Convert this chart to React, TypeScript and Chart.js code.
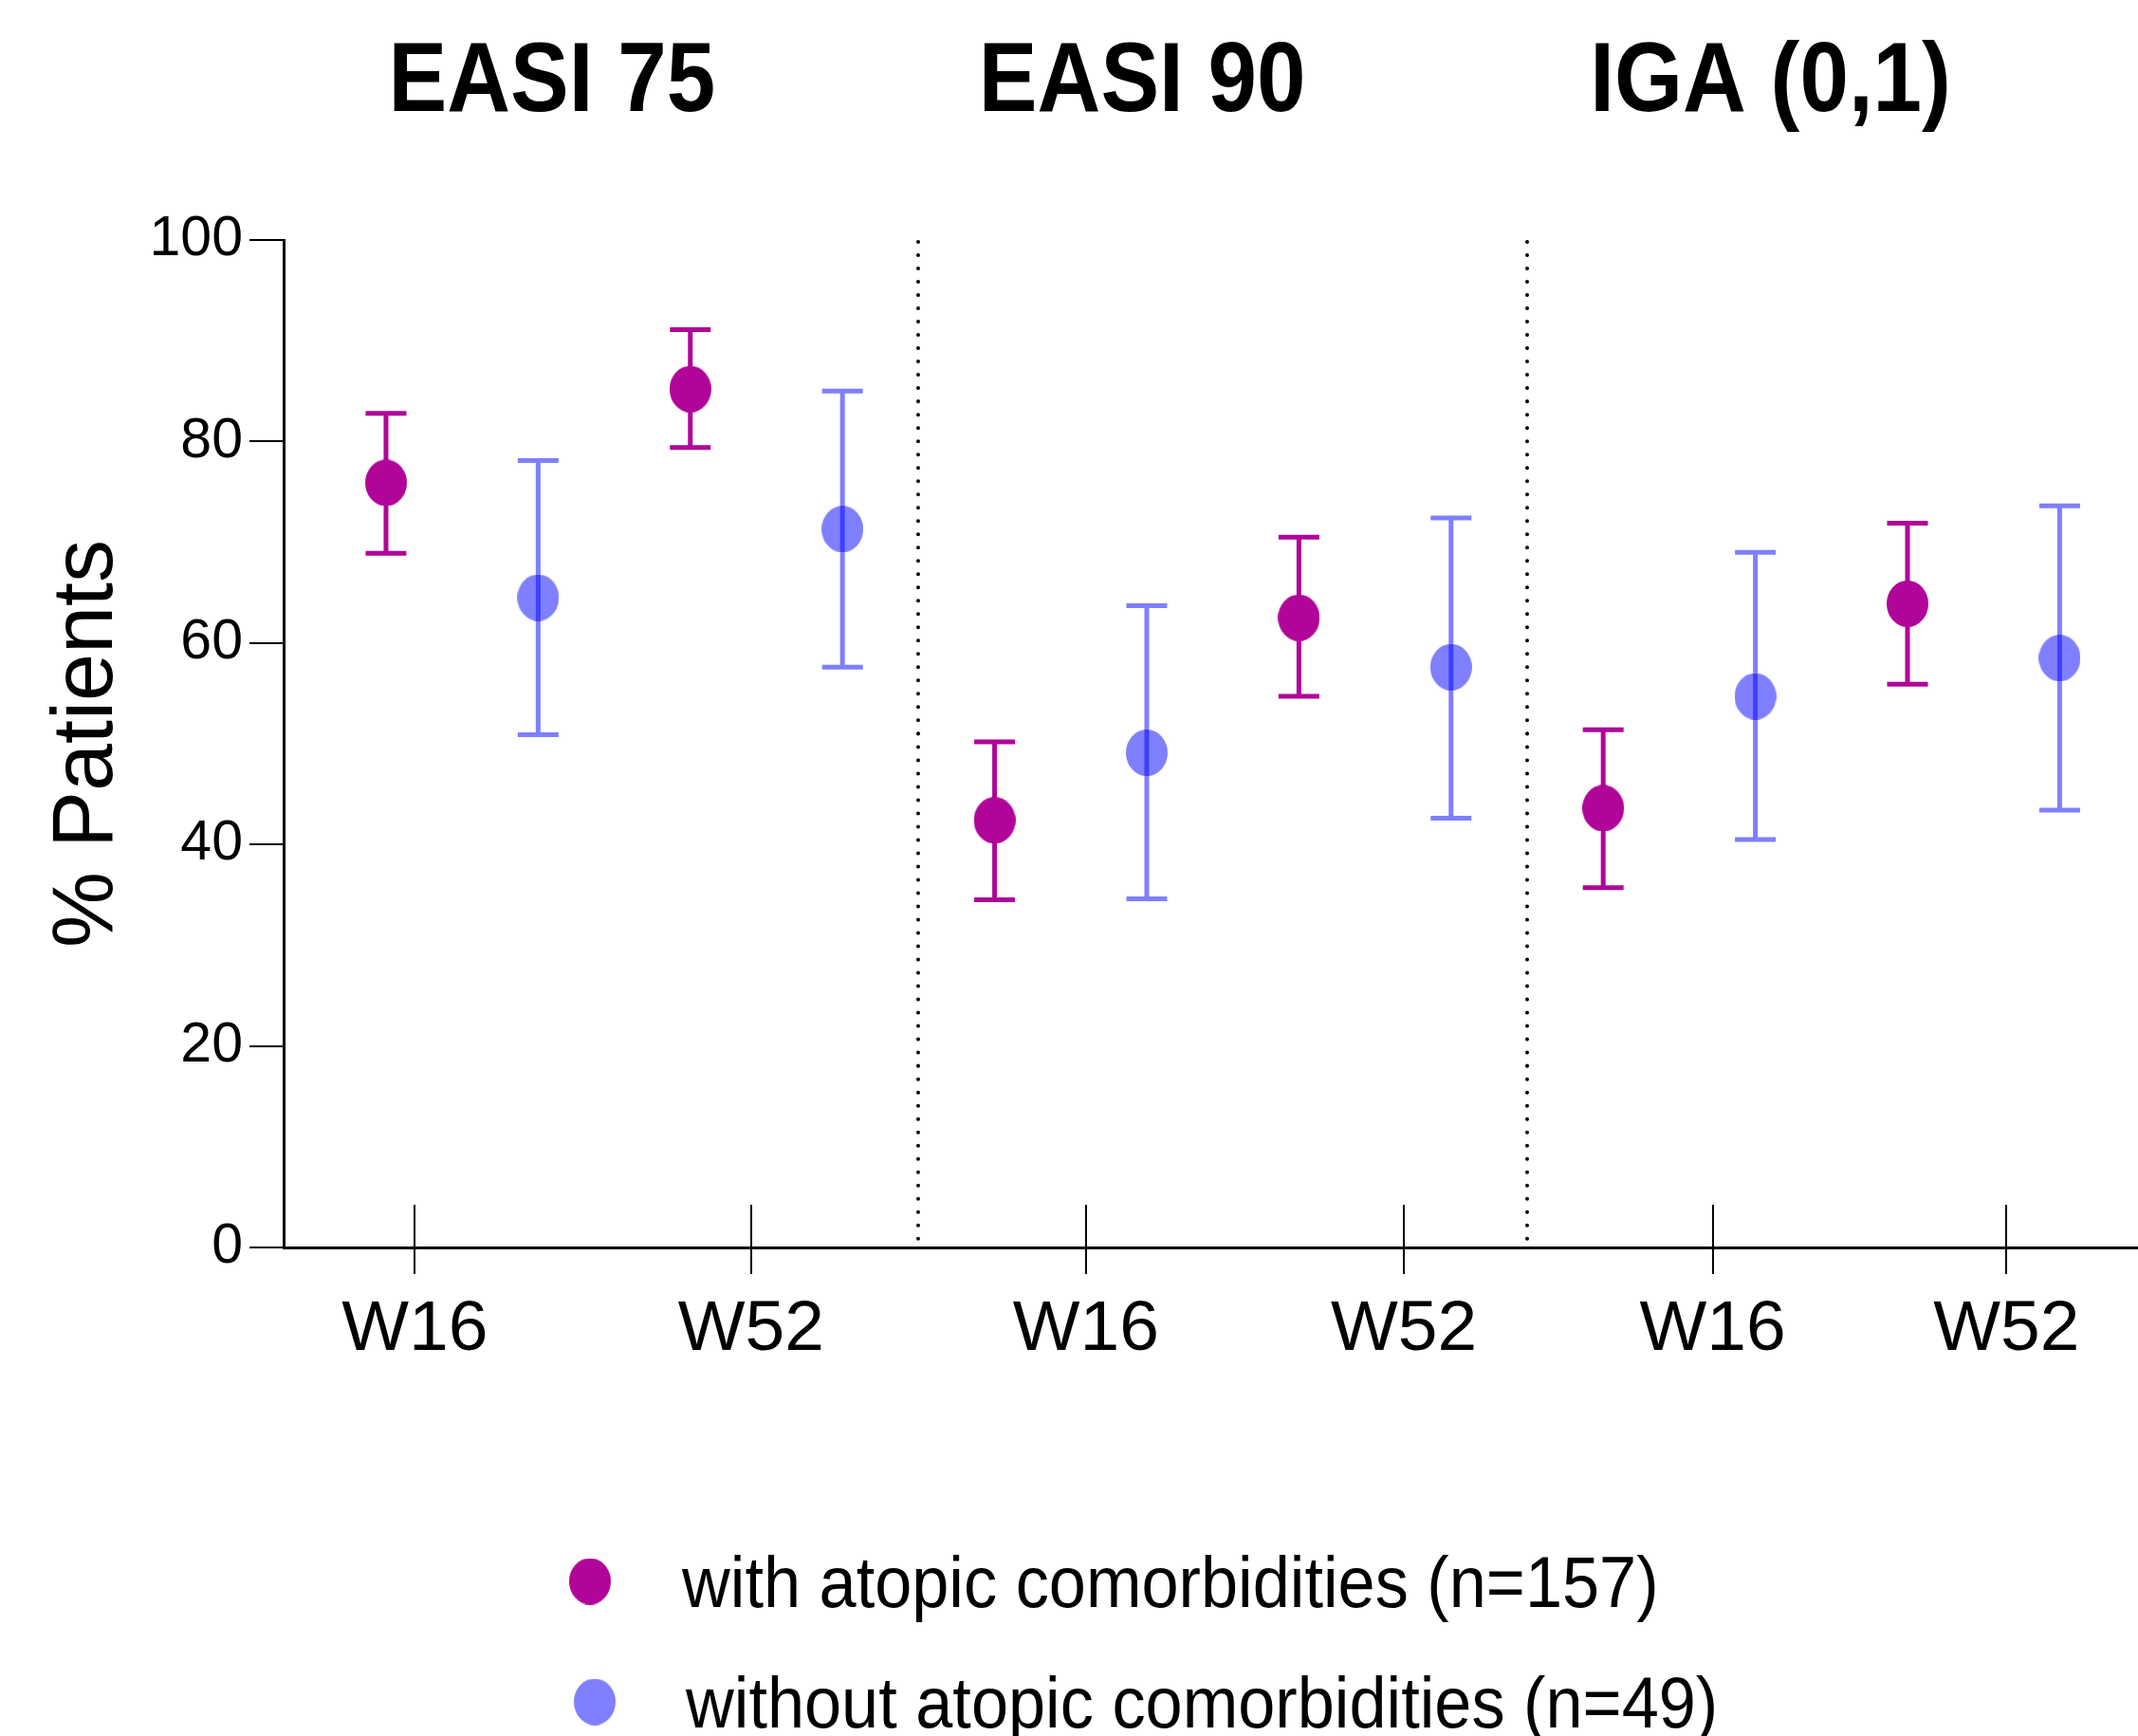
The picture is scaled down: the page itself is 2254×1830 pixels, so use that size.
import React, { useEffect, useRef } from "react";
import { Chart, registerables } from "chart.js";

Chart.register(...registerables);

// ---- data ----
const panelTitles = ["EASI 75", "EASI 90", "IGA (0,1)"];
const panelTitleX = [1.09, 4.97, 9.1];
const separatorX = [3.5, 7.5];
const xTickValues = [0.19, 2.4, 4.6, 6.69, 8.72, 10.65];
const xTickLabels = ["W16", "W52", "W16", "W52", "W16", "W52"];
const yTickValues = [0, 20, 40, 60, 80, 100];
const seriesLabels = [
  "with atopic comorbidities (n=157)",
  "without atopic comorbidities (n=49)",
];

const withX = [0, 2, 4, 6, 8, 10];
const withMean = [75.9, 85.2, 42.4, 62.5, 43.6, 63.9];
const withLow = [68.9, 79.4, 34.5, 54.7, 35.7, 55.9];
const withHigh = [82.8, 91.1, 50.2, 70.5, 51.4, 71.9];

const withoutX = [1, 3, 5, 7, 9, 11];
const withoutMean = [64.5, 71.3, 49.1, 57.6, 54.7, 58.5];
const withoutLow = [50.9, 57.6, 34.6, 42.6, 40.5, 43.4];
const withoutHigh = [78.1, 85.0, 63.7, 72.4, 69.0, 73.6];

// ---- styles ----
const MAGENTA = "#B00598";
const BLUE = "rgba(0,0,255,0.5)";
const FONT = '"Liberation Sans", Arial, sans-serif';

function ellipseImage(color: string, w: number, h: number) {
  const c = document.createElement("canvas");
  c.width = w;
  c.height = h;
  const g = c.getContext("2d")!;
  g.fillStyle = color;
  g.beginPath();
  g.ellipse(w / 2, h / 2, w / 2, h / 2, 0, 0, Math.PI * 2);
  g.fill();
  return c;
}

function condensedText(ctx: CanvasRenderingContext2D, text: string, x: number, y: number, sx: number) {
  ctx.save();
  ctx.translate(x, y);
  ctx.scale(sx, 1);
  ctx.fillText(text, 0, 0);
  ctx.restore();
}

export default function App() {
  const ref = useRef<HTMLCanvasElement | null>(null);

  useEffect(() => {
    document.body.style.margin = "0";
    const canvas = ref.current!;
    const magentaDot = ellipseImage(MAGENTA, 44, 49);
    const blueDot = ellipseImage(BLUE, 44, 49);

    const mk = (xs: number[], m: number[], lo: number[], hi: number[]) =>
      xs.map((x, i) => ({ x, y: m[i], low: lo[i], high: hi[i] }));

    const errorBars = {
      id: "errorBars",
      beforeDatasetsDraw(chart: any) {
        const ctx = chart.ctx;
        const ys = chart.scales.y;
        chart.data.datasets.forEach((ds: any, di: number) => {
          const meta = chart.getDatasetMeta(di);
          ctx.save();
          ctx.strokeStyle = ds.errorColor;
          ctx.lineWidth = 5;
          ctx.beginPath();
          meta.data.forEach((pt: any, i: number) => {
            const d = ds.data[i];
            const yl = ys.getPixelForValue(d.low);
            const yh = ys.getPixelForValue(d.high);
            ctx.moveTo(pt.x, yl);
            ctx.lineTo(pt.x, yh);
            ctx.moveTo(pt.x - 21.5, yl);
            ctx.lineTo(pt.x + 21.5, yl);
            ctx.moveTo(pt.x - 21.5, yh);
            ctx.lineTo(pt.x + 21.5, yh);
          });
          ctx.stroke();
          ctx.restore();
        });
      },
    };

    const decorations = {
      id: "decorations",
      afterDraw(chart: any) {
        const ctx = chart.ctx;
        const xs = chart.scales.x;
        const area = chart.chartArea;
        ctx.save();
        // dotted separators
        ctx.strokeStyle = "#000";
        ctx.lineWidth = 4;
        ctx.lineCap = "round";
        ctx.setLineDash([0.01, 14]);
        separatorX.forEach((v) => {
          const px = Math.round(xs.getPixelForValue(v));
          ctx.beginPath();
          ctx.moveTo(px, area.top + 2);
          ctx.lineTo(px, area.bottom - 2);
          ctx.stroke();
        });
        ctx.setLineDash([]);
        ctx.lineCap = "butt";
        // inward x tick marks
        ctx.lineWidth = 2;
        xTickValues.forEach((v) => {
          const px = Math.round(xs.getPixelForValue(v));
          ctx.beginPath();
          ctx.moveTo(px, area.bottom);
          ctx.lineTo(px, area.bottom - 45);
          ctx.stroke();
        });
        // panel titles
        ctx.fillStyle = "#000";
        ctx.font = `bold 104px ${FONT}`;
        ctx.textAlign = "center";
        ctx.textBaseline = "alphabetic";
        panelTitles.forEach((t, i) => {
          condensedText(ctx, t, xs.getPixelForValue(panelTitleX[i]), 117, 0.89);
        });
        // legend
        ctx.textAlign = "left";
        ctx.font = `76px ${FONT}`;
        const rows = [
          { img: magentaDot, mx: 622, my: 1667, tx: 719 },
          { img: blueDot, mx: 627, my: 1794, tx: 723 },
        ];
        rows.forEach((r, i) => {
          ctx.drawImage(r.img, r.mx - 22, r.my - 24.5);
          condensedText(ctx, seriesLabels[i], r.tx, r.my + 27, 0.925);
        });
        ctx.restore();
      },
    };

    const chart = new Chart(canvas, {
      type: "scatter",
      data: {
        datasets: [
          {
            label: seriesLabels[0],
            data: mk(withX, withMean, withLow, withHigh),
            pointStyle: magentaDot as any,
            pointRadius: 24,
            errorColor: MAGENTA,
          } as any,
          {
            label: seriesLabels[1],
            data: mk(withoutX, withoutMean, withoutLow, withoutHigh),
            pointStyle: blueDot as any,
            pointRadius: 24,
            errorColor: BLUE,
          } as any,
        ],
      },
      options: {
        responsive: false,
        animation: false,
        events: [],
        layout: { autoPadding: false, padding: { top: 253, left: 0, right: 0, bottom: 0 } },
        plugins: {
          legend: { display: false },
          tooltip: { enabled: false },
        },
        scales: {
          x: {
            type: "linear",
            min: -0.673,
            max: 11.515,
            afterBuildTicks: (s: any) => {
              s.ticks = xTickValues.map((v) => ({ value: v }));
            },
            afterFit: (s: any) => {
              s.height = 515;
              s.paddingLeft = 0;
              s.paddingRight = 0;
            },
            grid: {
              display: true,
              drawOnChartArea: false,
              drawTicks: true,
              tickLength: 28,
              color: "#000",
              lineWidth: 2,
            },
            border: { display: true, color: "#000", width: 3 },
            ticks: {
              autoSkip: false,
              maxRotation: 0,
              padding: 14,
              color: "#000",
              font: { family: FONT, size: 75 },
              callback: (_v: any, i: number) => xTickLabels[i],
            },
          },
          y: {
            type: "linear",
            min: 0,
            max: 100,
            afterBuildTicks: (s: any) => {
              s.ticks = yTickValues.map((v) => ({ value: v }));
            },
            afterFit: (s: any) => {
              s.width = 299;
            },
            grid: {
              display: true,
              drawOnChartArea: false,
              drawTicks: true,
              tickLength: 36,
              color: "#000",
              lineWidth: 2,
            },
            border: { display: true, color: "#000", width: 3 },
            ticks: {
              padding: 7,
              color: "#000",
              font: { family: FONT, size: 59 },
              callback: (v: any) => String(v),
            },
            title: {
              display: true,
              text: "% Patients",
              color: "#000",
              font: { family: FONT, size: 90 },
              padding: { top: 39, bottom: 0 },
            },
          },
        },
      },
      plugins: [errorBars, decorations],
    });

    return () => chart.destroy();
  }, []);

  return (
    <canvas
      ref={ref}
      width={2254}
      height={1830}
      style={{ display: "block", width: 2254, height: 1830 }}
    />
  );
}
